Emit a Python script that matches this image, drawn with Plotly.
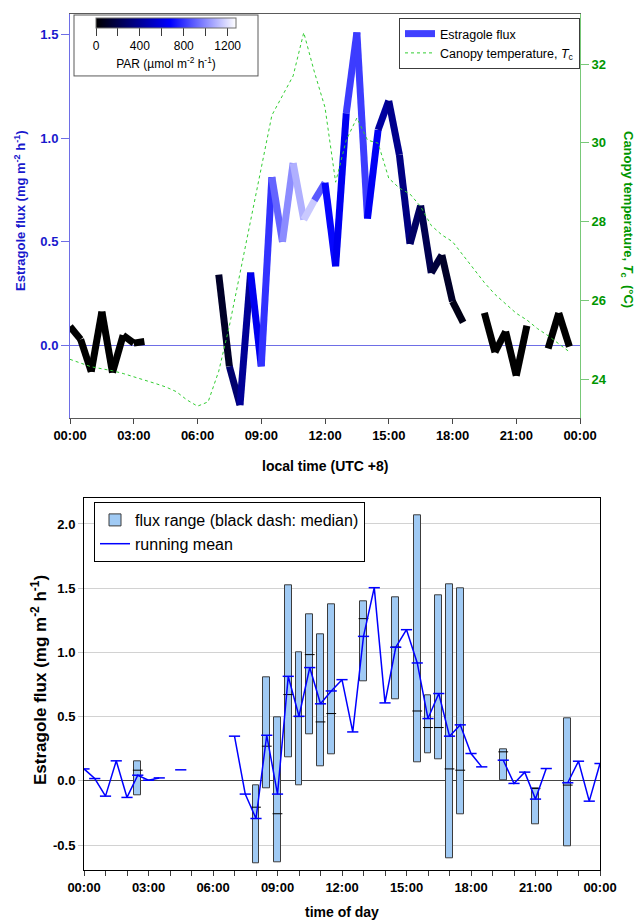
import plotly.graph_objects as go
from plotly.colors import sample_colorscale

# ---------------- data ----------------
times = ["00:00", "00:30", "01:00", "01:30", "02:00", "02:30", "03:00", "03:30",
         "04:00", "04:30", "05:00", "05:30", "06:00", "06:30", "07:00", "07:30",
         "08:00", "08:30", "09:00", "09:30", "10:00", "10:30", "11:00", "11:30",
         "12:00", "12:30", "13:00", "13:30", "14:00", "14:30", "15:00", "15:30",
         "16:00", "16:30", "17:00", "17:30", "18:00", "18:30", "19:00", "19:30",
         "20:00", "20:30", "21:00", "21:30", "22:00", "22:30", "23:00", "23:30"]

# Estragole flux of the top panel (mg m-2 h-1)
flux_day = [0.092, 0.030, -0.126, 0.164, -0.130, 0.050, 0.012, 0.020,
            None, 0.086, None, None, None, None, 0.342, -0.100,
            -0.287, 0.352, -0.100, 0.812, 0.500, 0.880, 0.607, 0.700,
            0.785, 0.382, 1.120, 1.510, 0.612, 1.040, 1.180, 0.920,
            0.490, 0.675, 0.350, 0.437, 0.213, 0.112, None, 0.158,
            -0.032, 0.068, -0.145, 0.096, None, -0.014, 0.157, -0.005]

# PAR (umol m-2 h-1), colours the flux line
par = [0, 0, 0, 0, 0, 0, 0, 0,
       0, 0, 0, 0, 10, 40, 106, 292,
       398, 636, 794, 911, 1005, 1090, 1150, 888,
       690, 640, 817, 817, 650, 424, 371, 345,
       265, 212, 160, 106, 53, 20, 0, 0,
       0, 0, 0, 0, 0, 0, 0, 0]

# Canopy temperature Tc (degC)
temp_c = [24.50, 24.40, 24.31, 24.26, 24.21, 24.14, 24.06, 23.98,
          23.89, 23.80, 23.68, 23.47, 23.31, 23.42, 24.20, 25.35,
          26.69, 27.95, 29.30, 30.70, 31.20, 31.70, 32.80, 31.80,
          30.90, 29.00, 30.07, 30.63, 30.07, 29.99, 29.10, 28.85,
          28.70, 28.38, 27.90, 27.66, 27.49, 27.15, 26.80, 26.45,
          26.15, 25.90, 25.67, 25.50, 25.28, 25.10, 24.90, 24.69]

# bottom panel: running mean (includes 24:00)
mean_times = times + ["24:00"]
flux_mean = [0.093, 0.018, -0.119, 0.156, -0.129, 0.044, 0.005, 0.023,
             None, 0.086, None, None, None, None, 0.348, -0.103,
             -0.293, 0.355, -0.103, 0.814, 0.503, 0.882, 0.600, 0.700,
             0.788, 0.381, 1.125, 1.504, 0.607, 1.040, 1.177, 0.918,
             0.485, 0.680, 0.348, 0.436, 0.213, 0.109, None, 0.161,
             -0.020, 0.068, -0.142, 0.096, None, -0.015, 0.153, -0.158,
             0.135]

# bottom panel: flux ranges
box_times = ["02:30", "08:00", "08:30", "09:00", "09:30", "10:00", "10:30",
             "11:00", "11:30", "13:00", "14:30", "15:30", "16:00", "16:30",
             "17:00", "17:30", "19:30", "21:00", "22:30"]
box_low = [-0.114, -0.645, -0.054, -0.632, 0.182, -0.038, 0.365,
           0.117, 0.210, 0.778, 0.635, 0.145, 0.213, 0.169,
           -0.601, -0.264, 0.003, -0.342, -0.513]
box_high = [0.151, -0.033, 0.810, 0.493, 1.522, 0.998, 1.300,
            1.140, 1.376, 1.400, 1.428, 2.069, 0.667, 1.444,
            1.529, 1.500, 0.246, -0.054, 0.490]
box_median = [0.083, -0.205, 0.270, -0.256, 0.672, 0.500, 0.983,
              0.459, 0.524, 1.263, 1.042, 0.544, 0.415, 0.415,
              0.093, 0.083, 0.226, -0.060, -0.033]

tick_hours = [0, 3, 6, 9, 12, 15, 18, 21, 24]
tick_labels = ["00:00", "03:00", "06:00", "09:00", "12:00", "15:00", "18:00", "21:00", "00:00"]

# ---------------- helpers ----------------
def hrs(s):
    h, m = s.split(":")
    return int(h) + int(m) / 60.0

FONT = "Liberation Sans, Arial, sans-serif"
PAR_MAX = 1276
par_scale = [[0, "rgb(0,0,0)"], [0.53, "rgb(0,0,255)"], [1, "rgb(255,255,255)"]]
BLUE_TXT = "rgb(25,25,205)"
GREEN_TXT = "rgb(0,150,0)"

t_day = [hrs(s) for s in times]
t_mean = [hrs(s) for s in mean_times]
t_box = [hrs(s) for s in box_times]

fig = go.Figure()

# ---- top panel: flux segments coloured by PAR ----
for i in range(len(t_day) - 1):
    if flux_day[i] is None or flux_day[i + 1] is None:
        continue
    col = sample_colorscale(par_scale, [par[i] / PAR_MAX])[0]
    fig.add_trace(go.Scatter(x=[t_day[i], t_day[i + 1]], y=[flux_day[i], flux_day[i + 1]],
                             mode="lines", line=dict(color=col, width=7),
                             showlegend=False, hoverinfo="skip", xaxis="x", yaxis="y"))

fig.add_trace(go.Scatter(x=[None], y=[None], mode="lines", name="Estragole flux",
                         line=dict(color="rgb(64,64,255)", width=7),
                         legend="legend", xaxis="x", yaxis="y"))

# colour bar (PAR)
cbar = dict(orientation="h", x=166 / 640, xanchor="center",
            y=1 - 15 / 922, yanchor="top",
            len=182, lenmode="pixels", thickness=10, thicknessmode="pixels",
            outlinecolor="rgb(110,110,110)", outlinewidth=1,
            bordercolor="rgb(90,90,90)", borderwidth=1, bgcolor="white",
            xpad=21, ypad=3,
            tickvals=[0, 200, 400, 600, 800, 1000, 1200],
            ticktext=["0", " ", "400", " ", "800", " ", "1200"],
            ticks="outside", ticklen=8, tickcolor="rgb(60,60,60)",
            tickfont=dict(family=FONT, size=12, color="black"),
            title=dict(text="PAR (µmol m<sup>-2</sup> h<sup>-1</sup>)", side="bottom",
                       font=dict(family=FONT, size=12, color="black")))
fig.add_trace(go.Scatter(
    x=[None], y=[None], mode="markers", showlegend=False, xaxis="x", yaxis="y",
    marker=dict(color=[0], colorscale=par_scale, cmin=0, cmax=PAR_MAX, showscale=True,
                colorbar=cbar)))

# temperature
fig.add_trace(go.Scatter(x=t_day, y=temp_c, mode="lines", name="Canopy temperature, <i>T</i><sub>c</sub>",
                         line=dict(color="rgb(50,205,50)", width=1, dash="dot"),
                         legend="legend", xaxis="x", yaxis="y2"))

# ---- bottom panel ----
fig.add_trace(go.Bar(x=t_box, y=[h - l for h, l in zip(box_high, box_low)], base=box_low,
                     width=0.32, name="flux range (black dash: median)",
                     marker=dict(color="rgb(160,202,244)", line=dict(color="rgb(60,60,60)", width=1)),
                     legend="legend2", xaxis="x2", yaxis="y3"))
fig.add_trace(go.Scatter(x=t_box, y=box_median, mode="markers", showlegend=False,
                         marker=dict(symbol="line-ew", size=7, line=dict(color="black", width=1)),
                         xaxis="x2", yaxis="y3"))
fig.add_trace(go.Scatter(x=t_mean, y=flux_mean, mode="lines", name="running mean",
                         line=dict(color="rgb(0,0,255)", width=1.5),
                         legend="legend2", xaxis="x2", yaxis="y3"))
fig.add_trace(go.Scatter(x=t_mean, y=flux_mean, mode="markers", showlegend=False,
                         marker=dict(symbol="line-ew", size=8, line=dict(color="rgb(0,0,255)", width=1.5)),
                         xaxis="x2", yaxis="y3"))

bold13 = dict(family=FONT, size=13, color="black", weight="bold")

fig.update_layout(
    width=640, height=922, margin=dict(l=0, r=0, t=0, b=0),
    paper_bgcolor="white", plot_bgcolor="white",
    font=dict(family=FONT, color="black"),
    bargap=0,
    xaxis=dict(domain=[70 / 640, 580 / 640], anchor="y", range=[0, 24],
               tickvals=tick_hours, ticktext=tick_labels, ticks="outside", ticklen=5,
               tickcolor="rgb(70,70,70)", showline=True, linecolor="rgb(90,90,90)", mirror=True,
               showgrid=False, zeroline=False, tickfont=bold13, automargin=False),
    yaxis=dict(domain=[1 - 418 / 922, 1 - 13.7 / 922], anchor="x", range=[-0.349, 1.60],
               tickvals=[0, 0.5, 1.0, 1.5], ticktext=["0.0", "0.5", "1.0", "1.5"],
               ticks="outside", ticklen=8, tickcolor="rgb(110,110,230)",
               showline=True, linecolor="rgb(110,110,230)", showgrid=False,
               zeroline=True, zerolinecolor="rgb(110,110,230)", zerolinewidth=1,
               tickfont=dict(family=FONT, size=13, color=BLUE_TXT, weight="bold"), automargin=False),
    yaxis2=dict(overlaying="y", anchor="x", side="right", range=[23.01, 33.28],
                tickvals=[24, 26, 28, 30, 32], ticks="outside", ticklen=8,
                tickcolor="rgb(120,200,120)", showline=True, linecolor="rgb(120,200,120)",
                showgrid=False, zeroline=False,
                tickfont=dict(family=FONT, size=13, color=GREEN_TXT, weight="bold"), automargin=False),
    xaxis2=dict(domain=[84 / 640, 600 / 640], anchor="y3", range=[0, 24],
                tickvals=tick_hours, ticktext=tick_labels,
                ticks="outside", ticklen=5, tickcolor="rgb(60,60,60)",
                minor=dict(dtick=1, tick0=0, ticks="outside", ticklen=5, tickcolor="rgb(60,60,60)",
                           showgrid=False),
                showline=True, linecolor="black", mirror=True, showgrid=False, zeroline=False,
                tickfont=bold13, automargin=False),
    yaxis3=dict(domain=[1 - 870 / 922, 1 - 498.3 / 922], anchor="x2", range=[-0.694, 2.2],
                tickvals=[-0.5, 0, 0.5, 1.0, 1.5, 2.0],
                ticktext=["-0.5", "0.0", "0.5", "1.0", "1.5", "2.0"],
                ticks="outside", ticklen=5, tickcolor="rgb(200,200,200)",
                showline=True, linecolor="black", mirror=True,
                showgrid=True, gridcolor="rgb(210,210,210)", gridwidth=1,
                zeroline=True, zerolinecolor="rgb(70,70,70)", zerolinewidth=1,
                tickfont=bold13, automargin=False),
    legend=dict(x=580 / 640, xanchor="right", y=1 - 18 / 922, yanchor="top",
                bgcolor="white", bordercolor="rgb(60,60,60)", borderwidth=1,
                font=dict(family=FONT, size=12.5, color="black"), tracegroupgap=0),
    legend2=dict(x=94 / 640, xanchor="left", y=1 - 502 / 922, yanchor="top",
                 bgcolor="white", bordercolor="black", borderwidth=1,
                 font=dict(family=FONT, size=16, color="black"), tracegroupgap=0),
    annotations=[
        dict(text="Estragole flux (mg m<sup>-2</sup> h<sup>-1</sup>)", x=20 / 640, y=1 - 211 / 922,
             xref="paper", yref="paper", xanchor="center", yanchor="middle",
             textangle=-90, showarrow=False,
             font=dict(family=FONT, size=13, color=BLUE_TXT, weight="bold")),
        dict(text="Canopy temperature, <i>T</i><sub>c</sub>  (°C)", x=628 / 640, y=1 - 219 / 922,
             xref="paper", yref="paper", xanchor="center", yanchor="middle",
             textangle=90, showarrow=False,
             font=dict(family=FONT, size=13, color=GREEN_TXT, weight="bold")),
        dict(text="local time (UTC +8)", x=325 / 640, y=1 - 466 / 922,
             xref="paper", yref="paper", xanchor="center", yanchor="middle", showarrow=False,
             font=dict(family=FONT, size=14, color="black", weight="bold")),
        dict(text="Estragole flux (mg m<sup>-2</sup> h<sup>-1</sup>)", x=39 / 640, y=1 - 680 / 922,
             xref="paper", yref="paper", xanchor="center", yanchor="middle",
             textangle=-90, showarrow=False,
             font=dict(family=FONT, size=17, color="black", weight="bold")),
        dict(text="time of day", x=342 / 640, y=1 - 912 / 922,
             xref="paper", yref="paper", xanchor="center", yanchor="middle", showarrow=False,
             font=dict(family=FONT, size=14, color="black", weight="bold")),
    ],
)

fig.write_html("out.html", config={"displayModeBar": False},
               post_script="document.body.style.margin='0px';")
